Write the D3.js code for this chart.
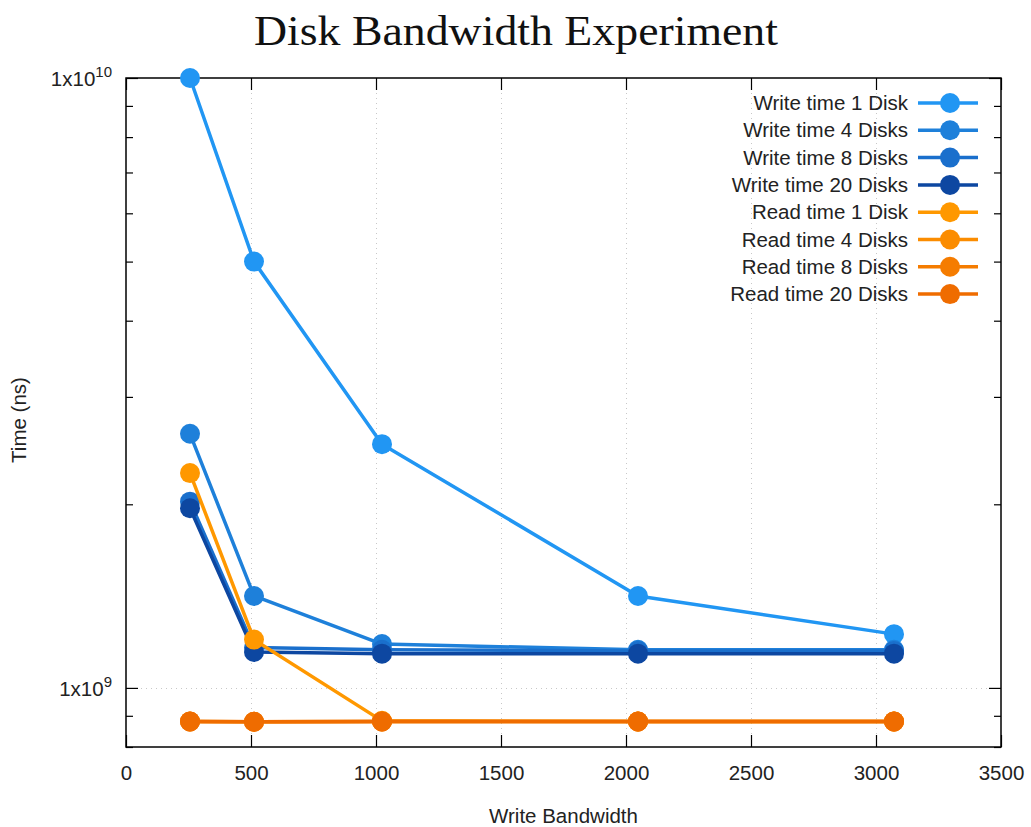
<!DOCTYPE html>
<html>
<head>
<meta charset="utf-8">
<script src="https://cdn.jsdelivr.net/npm/d3@7"></script>
<style>
  html, body { margin: 0; padding: 0; background: #fff; }
  svg { display: block; }
</style>
</head>
<body>
<svg id="chart" width="1031" height="827"></svg>
<script>
// ---- data ----
const bandwidths = [256, 512, 1024, 2048, 3072];
const seriesNames = [
  "Write time 1 Disk", "Write time 4 Disks", "Write time 8 Disks", "Write time 20 Disks",
  "Read time 1 Disk", "Read time 4 Disks", "Read time 8 Disks", "Read time 20 Disks"
];
const write1  = [1.0e10, 5.0e9, 2.51e9, 1.415e9, 1.225e9];
const write4  = [2.61e9, 1.415e9, 1.18e9, 1.155e9, 1.155e9];
const write8  = [2.02e9, 1.165e9, 1.155e9, 1.15e9, 1.15e9];
const write20 = [1.97e9, 1.145e9, 1.138e9, 1.138e9, 1.138e9];
const read1   = [2.25e9, 1.2e9, 0.883e9, 0.881e9, 0.881e9];
const read4   = [0.881e9, 0.880e9, 0.881e9, 0.881e9, 0.881e9];
const read8   = [0.881e9, 0.880e9, 0.881e9, 0.881e9, 0.881e9];
const read20  = [0.881e9, 0.880e9, 0.881e9, 0.881e9, 0.881e9];
const seriesValues = [write1, write4, write8, write20, read1, read4, read8, read20];
const colors = ["#2196F3", "#1E80DA", "#1A6FCC", "#0D47A1", "#FF9800", "#FB8C00", "#F57C00", "#EF6C00"];
const xTicks = [0, 500, 1000, 1500, 2000, 2500, 3000, 3500];
const yMajorTicks = [1e9, 1e10];
const yMinorTicks = [8e8, 9e8, 2e9, 3e9, 4e9, 5e9, 6e9, 7e9, 8e9, 9e9];

// ---- layout ----
const svg = d3.select("#chart");
const L = 126, R = 1001, T = 78, B = 747;
const x = d3.scaleLinear().domain([0, 3500]).range([L, R]);
const y = d3.scaleLog().domain([8e8, 1e10]).range([B, T]);

const sans = "'Liberation Sans', Arial, Helvetica, sans-serif";
const fs = 20.5;

// grid
const grid = svg.append("g").attr("stroke", "#c8c8c8").attr("stroke-width", 1).attr("stroke-dasharray", "1,4");
grid.selectAll("line.gx").data(xTicks.filter(d => d > 0 && d < 3500)).join("line")
  .attr("x1", d => x(d) + 0.5).attr("x2", d => x(d) + 0.5).attr("y1", T).attr("y2", B);
grid.selectAll("line.gy").data([1e9]).join("line")
  .attr("x1", L).attr("x2", R).attr("y1", d => Math.round(y(d)) + 0.5).attr("y2", d => Math.round(y(d)) + 0.5);

// axes (bottom/top/left/right) via d3 axes with inward ticks
const axBottom = d3.axisBottom(x).tickValues(xTicks).tickSize(-12).tickPadding(18).tickFormat(d3.format("d"));
const gB = svg.append("g").attr("transform", `translate(0,${B})`).call(axBottom);
const axTop = d3.axisTop(x).tickValues(xTicks).tickSize(-12).tickFormat("");
const gT = svg.append("g").attr("transform", `translate(0,${T})`).call(axTop);
const axLeft = d3.axisLeft(y).tickValues(yMajorTicks).tickSize(-12).tickFormat("");
const gL = svg.append("g").attr("transform", `translate(${L},0)`).call(axLeft);
const axLeftMinor = d3.axisLeft(y).tickValues(yMinorTicks).tickSize(-7).tickFormat("");
const gLm = svg.append("g").attr("transform", `translate(${L},0)`).call(axLeftMinor);
const axRight = d3.axisRight(y).tickValues(yMajorTicks).tickSize(-12).tickFormat("");
const gR = svg.append("g").attr("transform", `translate(${R},0)`).call(axRight);
const axRightMinor = d3.axisRight(y).tickValues(yMinorTicks).tickSize(-7).tickFormat("");
const gRm = svg.append("g").attr("transform", `translate(${R},0)`).call(axRightMinor);
[gB, gT, gL, gLm, gR, gRm].forEach(g => {
  g.select(".domain").remove();
  g.selectAll(".tick line").attr("stroke", "#000").attr("stroke-width", 1.2);
});
gB.selectAll(".tick text").attr("font-family", sans).attr("font-size", fs).attr("fill", "#222");

// frame
svg.append("rect").attr("x", L).attr("y", T).attr("width", R - L).attr("height", B - T)
  .attr("fill", "none").attr("stroke", "#000").attr("stroke-width", 1.5);

// y tick labels 1x10^n
yMajorTicks.forEach(v => {
  const e = Math.round(Math.log10(v));
  const t = svg.append("text").attr("x", L - 14).attr("y", y(v) + 8)
    .attr("text-anchor", "end").attr("font-family", sans).attr("font-size", fs).attr("fill", "#222");
  t.append("tspan").text("1x10");
  t.append("tspan").attr("dy", -9).attr("font-size", 15).text(e);
});

// series
const line = d3.line().x((d, i) => x(bandwidths[i])).y(d => y(d));
const gS = svg.append("g");
seriesValues.forEach((vals, k) => {
  const g = gS.append("g");
  g.append("path").datum(vals).attr("d", line).attr("fill", "none")
    .attr("stroke", colors[k]).attr("stroke-width", 3.5).attr("stroke-linejoin", "round");
  g.selectAll("circle").data(vals).join("circle")
    .attr("cx", (d, i) => x(bandwidths[i])).attr("cy", d => y(d)).attr("r", 10)
    .attr("fill", colors[k]);
});

// legend
const leg = svg.append("g");
seriesNames.forEach((name, k) => {
  const yy = 103 + k * 27.3;
  leg.append("text").attr("x", 908).attr("y", yy + 7).attr("text-anchor", "end")
    .attr("font-family", sans).attr("font-size", fs).attr("fill", "#222").text(name);
  leg.append("line").attr("x1", 918).attr("x2", 978).attr("y1", yy).attr("y2", yy)
    .attr("stroke", colors[k]).attr("stroke-width", 3.5);
  leg.append("circle").attr("cx", 950).attr("cy", yy).attr("r", 10).attr("fill", colors[k]);
});

// axis titles
svg.append("text").attr("x", (L + R) / 2).attr("y", 823).attr("text-anchor", "middle")
  .attr("font-family", sans).attr("font-size", fs).attr("fill", "#222").text("Write Bandwidth");
svg.append("text").attr("transform", "translate(26,420) rotate(-90)").attr("text-anchor", "middle")
  .attr("font-family", sans).attr("font-size", fs).attr("fill", "#222").text("Time (ns)");

// title
svg.append("text").attr("x", 516).attr("y", 45).attr("text-anchor", "middle")
  .attr("font-family", "'Liberation Serif', 'DejaVu Serif', serif").attr("font-size", 42)
  .attr("textLength", 524).attr("lengthAdjust", "spacingAndGlyphs")
  .attr("fill", "#111").text("Disk Bandwidth Experiment");
</script>
</body>
</html>
